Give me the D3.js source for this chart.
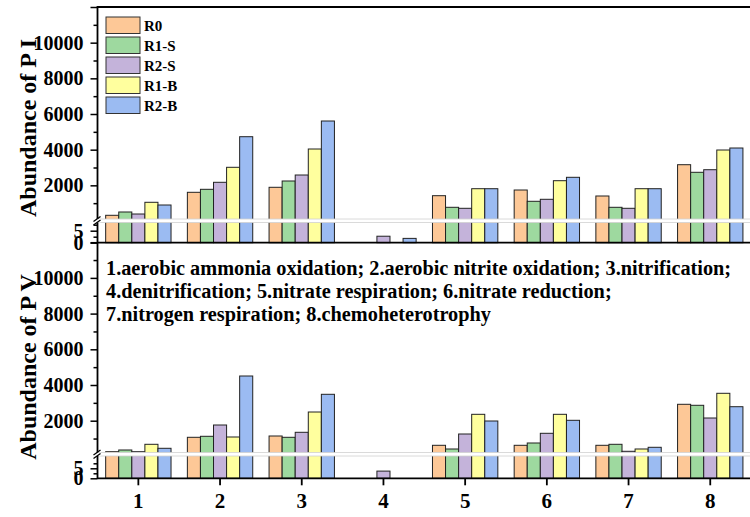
<html lang="en">

<head>
    <meta charset="UTF-8">
    <script src="https://d3js.org/d3.v7.min.js"></script>
    <style>
        body {
            margin: 0;
            background-color: white;
        }

        svg text {
            font-family: "Times New Roman", "Liberation Serif", "DejaVu Serif", serif;
            font-weight: bold;
            fill: black;
        }
    </style>
</head>

<body>
<div id="here"></div>
<script>
    const categories = ["1", "2", "3", "4", "5", "6", "7", "8"];
    const seriesNames = ["R0", "R1-S", "R2-S", "R1-B", "R2-B"];
    const colors = ["#FDC897", "#9ED99F", "#C4B3DA", "#FFFF9E", "#9BBBF2"];

    // abundance of P I, one list per series
    const pI_R0 = [320, 1609, 1890, 0, 1419, 1738, 1402, 3157];
    const pI_R1S = [505, 1777, 2243, 0, 768, 1105, 768, 2731];
    const pI_R2S = [392, 2170, 2579, 2.7, 712, 1217, 712, 2876];
    const pI_R1B = [1049, 3011, 4037, 0, 1811, 2260, 1811, 3981];
    const pI_R2B = [897, 4727, 5607, 1.8, 1811, 2450, 1811, 4093];

    // abundance of P V
    const pV_R0 = [263, 1070, 1143, 0, 622, 622, 622, 2919];
    const pV_R1S = [359, 1126, 1070, 0, 415, 751, 678, 2863];
    const pV_R2S = [263, 1759, 1350, 3.6, 1255, 1294, 286, 2151];
    const pV_R1B = [678, 1087, 2487, 0, 2358, 2358, 415, 3535];
    const pV_R2B = [454, 4504, 3479, 0, 1983, 2022, 510, 2784];

    const upperTicks = [2000, 4000, 6000, 8000, 10000, 12000];
    const upperMinor = [1000, 3000, 5000, 7000, 9000, 11000];
    const lowerTicks = [0, 5];
    const lowerMinor = [2.5, 7.5];

    const notes = [
        "1.aerobic ammonia oxidation; 2.aerobic nitrite oxidation; 3.nitrification;",
        "4.denitrification; 5.nitrate respiration; 6.nitrate reduction;",
        "7.nitrogen respiration; 8.chemoheterotrophy"
    ];

    const W = 750, H = 517;
    const left = 97.5, right = 751.1;

    const svg = d3.select("#here")
        .append("svg")
        .attr("width", W)
        .attr("height", H);

    const x = d3.scaleBand()
        .domain(categories)
        .range([left, right])
        .paddingInner(0.2)
        .paddingOuter(0.1);

    const xs = d3.scaleBand()
        .domain(seriesNames)
        .range([0, x.bandwidth()]);

    // each panel = broken axis: small lower part and a big upper part
    const panels = [
        {
            title: "Abundance of P I",
            data: [pI_R0, pI_R1S, pI_R2S, pI_R1B, pI_R2B],
            upper: d3.scaleLinear().domain([0, 12000]).range([221, 7]),
            lower: d3.scaleLinear().domain([0, 8.5]).range([242.7, 222.3]),
            breakTop: 219, breakBot: 222.5, titleY: 128
        },
        {
            title: "Abundance of P V",
            data: [pV_R0, pV_R1S, pV_R2S, pV_R1B, pV_R2B],
            upper: d3.scaleLinear().domain([0, 12000]).range([456.4, 242.2]),
            lower: d3.scaleLinear().domain([0, 10]).range([478.3, 458.3]),
            breakTop: 452.5, breakBot: 456, titleY: 367
        }
    ];

    panels.forEach(function (p, pi) {
        const lowMax = p.lower.domain()[1];
        const yOf = function (v) {
            if (v <= lowMax) return p.lower(v);
            return Math.min(p.upper(v), p.breakTop);
        };
        const base = p.lower(0);

        const rows = [];
        p.data.forEach(function (vals, si) {
            vals.forEach(function (v, ci) {
                if (v > 0) rows.push({ s: seriesNames[si], si: si, c: categories[ci], v: v });
            });
        });

        svg.append("g")
            .selectAll("rect")
            .data(rows)
            .enter()
            .append("rect")
            .attr("x", d => x(d.c) + xs(d.s))
            .attr("width", xs.bandwidth())
            .attr("y", d => yOf(d.v))
            .attr("height", d => base - yOf(d.v))
            .attr("fill", d => colors[d.si])
            .attr("stroke", "#222")
            .attr("stroke-width", 1);

        // break band across the plot
        svg.append("rect")
            .attr("x", left + 1)
            .attr("y", p.breakTop)
            .attr("width", W - left)
            .attr("height", p.breakBot - p.breakTop)
            .attr("fill", "white");
        [p.breakTop, p.breakBot].forEach(function (yy) {
            svg.append("line")
                .attr("x1", left + 1).attr("x2", W)
                .attr("y1", yy).attr("y2", yy)
                .attr("stroke", "#d0d0d0").attr("stroke-width", 0.8);
        });

        // zero line of this panel
        svg.append("line")
            .attr("x1", left).attr("x2", W)
            .attr("y1", base).attr("y2", base)
            .attr("stroke", "black").attr("stroke-width", 1.8);

        // y axes, upper and lower segments
        const upAxis = d3.axisLeft(p.upper)
            .tickValues(upperTicks)
            .tickSize(7)
            .tickFormat(d => d == 12000 ? "" : d);
        const upMinor = d3.axisLeft(p.upper).tickValues(upperMinor).tickSize(4).tickFormat("");
        const lowAxis = d3.axisLeft(p.lower).tickValues(lowerTicks).tickSize(7);
        const lowMinor = d3.axisLeft(p.lower).tickValues(lowerMinor).tickSize(4).tickFormat("");

        [upAxis, upMinor, lowAxis, lowMinor].forEach(function (ax) {
            const g = svg.append("g")
                .attr("transform", "translate(" + left + ",0)")
                .call(ax);
            g.select(".domain").remove();
            g.attr("font-family", null);
            g.selectAll("line").attr("stroke", "black").attr("stroke-width", 1.5);
            g.selectAll("text")
                .attr("x", -14)
                .style("font-size", "20px");
        });

        svg.append("text")
            .attr("transform", "translate(36," + p.titleY + ") rotate(-90)")
            .attr("text-anchor", "middle")
            .style("font-size", "24px")
            .text(p.title);
    });

    // left axis with the break marks
    svg.append("line")
        .attr("x1", left).attr("x2", left)
        .attr("y1", 6).attr("y2", 479)
        .attr("stroke", "black").attr("stroke-width", 1.8);
    panels.forEach(function (p) {
        svg.append("rect")
            .attr("x", left - 3).attr("y", p.breakTop)
            .attr("width", 6).attr("height", p.breakBot - p.breakTop)
            .attr("fill", "white");
        [p.breakTop, p.breakBot].forEach(function (yy) {
            svg.append("line")
                .attr("x1", left - 4).attr("x2", left + 3)
                .attr("y1", yy + 2.5).attr("y2", yy - 2.5)
                .attr("stroke", "black").attr("stroke-width", 1.3);
        });
    });

    // top frame
    svg.append("line")
        .attr("x1", left).attr("x2", W)
        .attr("y1", 7).attr("y2", 7)
        .attr("stroke", "black").attr("stroke-width", 2);

    // x axis at the bottom
    const xg = svg.append("g")
        .attr("transform", "translate(0," + panels[1].lower(0) + ")")
        .call(d3.axisBottom(x).tickSize(7).tickPadding(8));
    xg.select(".domain").remove();
    xg.attr("font-family", null);
    xg.selectAll("line").attr("stroke", "black").attr("stroke-width", 1.8);
    xg.selectAll("text")
        .style("font-size", "21px");

    // legend
    const leg = svg.append("g")
        .selectAll("g")
        .data(seriesNames)
        .enter()
        .append("g")
        .attr("transform", (d, i) => "translate(106," + (17 + i * 20) + ")");
    leg.append("rect")
        .attr("width", 34).attr("height", 16.5)
        .attr("fill", (d, i) => colors[i])
        .attr("stroke", "#333").attr("stroke-width", 1);
    leg.append("text")
        .attr("x", 38).attr("y", 14)
        .style("font-size", "15px")
        .text(d => d);

    // function names
    svg.append("g")
        .selectAll("text")
        .data(notes)
        .enter()
        .append("text")
        .attr("x", 106)
        .attr("y", (d, i) => 275 + i * 23)
        .style("font-size", "20.3px")
        .text(d => d);
</script>
</body>

</html>
